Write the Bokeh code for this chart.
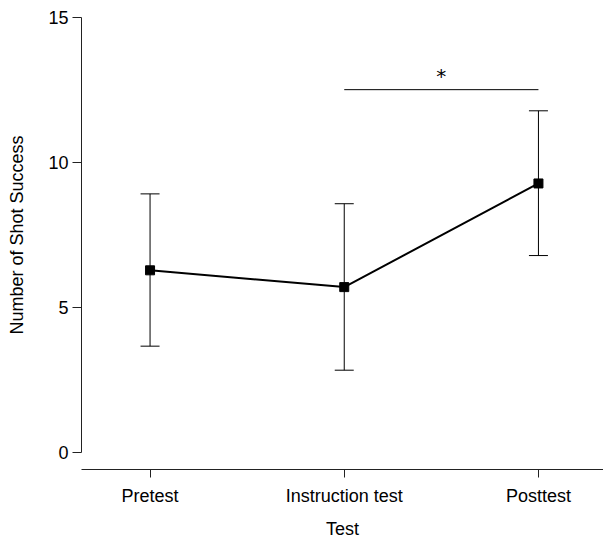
from bokeh.plotting import figure
from bokeh.models import (ColumnDataSource, FixedTicker, LinearAxis, Whisker, TeeHead,
                          Range1d)
from bokeh.embed import file_html
from bokeh.resources import INLINE
from bokeh.core.properties import value

categories = ["Pretest", "Instruction test", "Posttest"]
means = [6.28, 5.70, 9.28]
upper = [8.92, 8.58, 11.79]
lower = [3.66, 2.83, 6.79]
y_ticks = [0, 5, 10, 15]
sig_pair = [2, 3]
sig_level = 12.52
sig_text = "*"

xs = list(range(1, len(categories) + 1))
FONT = "Liberation Sans"

p = figure(width=603, height=541, output_backend="svg", toolbar_location=None,
           x_range=Range1d(0.647, 3.335), y_range=Range1d(-0.6, 15.6),
           x_axis_location=None, y_axis_location=None,
           min_border_left=81, min_border_right=0, min_border_top=0, min_border_bottom=71)
p.grid.visible = False
p.outline_line_color = None
p.background_fill_color = "white"
p.border_fill_color = "white"

yaxis = LinearAxis(ticker=FixedTicker(ticks=y_ticks), bounds=(0, 15),
                   axis_label="Number of Shot Success")
xaxis = LinearAxis(ticker=FixedTicker(ticks=xs), axis_label="Test",
                   major_label_overrides={x: c for x, c in zip(xs, categories)})
for ax in (xaxis, yaxis):
    ax.axis_line_color = "#222222"
    ax.axis_line_width = 1
    ax.major_tick_line_color = "#222222"
    ax.major_tick_in = 0
    ax.minor_tick_line_color = None
    ax.major_label_text_font = FONT
    ax.major_label_text_font_size = "18px"
    ax.major_label_text_color = "black"
    ax.axis_label_text_font = FONT
    ax.axis_label_text_font_size = "18px"
    ax.axis_label_text_font_style = "normal"
    ax.axis_label_text_color = "black"
yaxis.major_tick_out = 9
yaxis.major_label_standoff = 4
yaxis.axis_label_standoff = 18
xaxis.major_tick_out = 8
xaxis.major_label_standoff = 8
xaxis.axis_label_standoff = 10
p.add_layout(yaxis, "left")
p.add_layout(xaxis, "below")

src = ColumnDataSource(dict(x=xs, y=means, upper=upper, lower=lower))
p.add_layout(Whisker(source=src, base="x", upper="upper", lower="lower",
                     line_color="black", line_width=1,
                     upper_head=TeeHead(size=19, line_color="black", line_width=1),
                     lower_head=TeeHead(size=19, line_color="black", line_width=1)))
p.line("x", "y", source=src, line_color="black", line_width=2)
p.scatter("x", "y", source=src, marker="square", size=9, fill_color="black",
          line_color="black")

p.segment(x0=[sig_pair[0]], y0=[sig_level], x1=[sig_pair[1]], y1=[sig_level],
          line_color="black", line_width=1)
p.text(x=[(sig_pair[0] + sig_pair[1]) / 2], y=[sig_level], text=[sig_text],
       text_font=value("DejaVu Sans"), text_font_size="20px", text_align="center",
       text_baseline="bottom", y_offset=-2, text_color="black")

open("out.html", "w").write(file_html(p, INLINE))
